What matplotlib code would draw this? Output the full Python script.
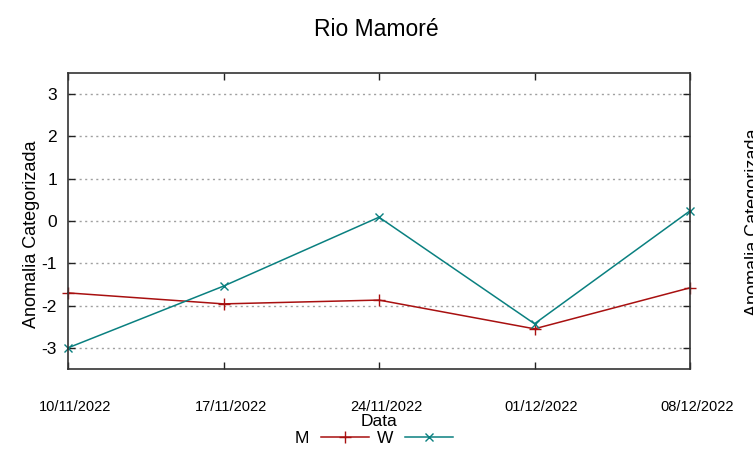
import matplotlib
matplotlib.use("Agg")
import matplotlib.pyplot as plt
from matplotlib.lines import Line2D
import matplotlib.transforms as mtransforms

plt.rcParams['font.family'] = ['Liberation Sans', 'DejaVu Sans']

dates = ["10/11/2022", "17/11/2022", "24/11/2022", "01/12/2022", "08/12/2022"]
m_vals = [-1.70, -1.96, -1.87, -2.55, -1.58]
w_vals = [-3.00, -1.54, 0.09, -2.43, 0.24]
yticks = [-3, -2, -1, 0, 1, 2, 3]

red = "#a81010"
teal = "#0a8080"

fig = plt.figure(figsize=(7.53, 4.58), dpi=100)
ax = fig.add_axes([68/753, 1-369/458, 622/753, 296/458])

x = list(range(len(dates)))
ax.plot(x, m_vals, color=red, lw=1.1, marker='+', ms=8, mew=1.0, clip_on=False, label='M')
ax.plot(x, w_vals, color=teal, lw=1.1, marker='x', ms=6, mew=1.0, clip_on=False, label='W')

ax.set_xlim(0, len(dates)-1)
ax.set_ylim(-3.5, 3.5)
ax.set_yticks(yticks)
ax.set_yticklabels([str(v) for v in yticks], fontsize=12.5)
ax.set_xticks(x)
ax.set_xticklabels(dates, fontsize=10.5)
ax.tick_params(axis='both', direction='in', length=5, width=1, top=True, right=True, color='#222222')
ax.tick_params(axis='x', pad=22)
ax.tick_params(axis='y', pad=8)
offset = mtransforms.ScaledTranslation(7/100, 0, fig.dpi_scale_trans)
for lab in ax.get_xticklabels():
    lab.set_transform(lab.get_transform() + offset)
ax.yaxis.grid(True, linestyle=(0, (1.5, 2.5)), color='#a0a0a0', lw=1)
ax.set_axisbelow(True)
for s in ax.spines.values():
    s.set_color('#333333')
    s.set_linewidth(1.2)

ax.set_xlabel("Data", fontsize=12.5, labelpad=0)
fig.text(32/753, 1-234/458, "Anomalia Categorizada", rotation=90, ha='center', va='center', fontsize=13)
fig.text(0.5, 1-29/458, "Rio Mamoré", ha='center', va='center', fontsize=16.5)

fig.text(745/753, 1-222/458, "Anomalia Categorizada", rotation=90, ha='left', va='center', fontsize=13)

handles = [Line2D([0], [0], color=red, lw=1.1, marker='+', ms=8),
           Line2D([0], [0], color=teal, lw=1.1, marker='x', ms=6)]
fig.legend(handles, ['M', 'W'], loc='center', bbox_to_anchor=(374/753, 1-438/458), ncol=2,
           frameon=False, markerfirst=False, fontsize=12.5, handlelength=2.75,
           columnspacing=0.45, handletextpad=0.7, borderpad=0)

fig.savefig("out.png", dpi=100)
